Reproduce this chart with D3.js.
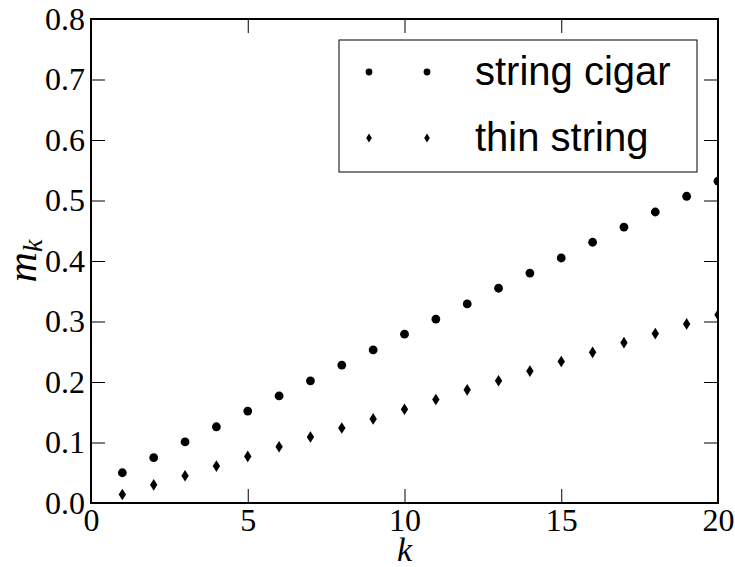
<!DOCTYPE html>
<html>
<head>
<meta charset="utf-8">
<script src="https://cdn.jsdelivr.net/npm/d3@7"></script>
<style>
  body { margin: 0; background: #fff; }
  svg { display: block; }
</style>
</head>
<body>
<div id="chart"></div>
<script>
// data
const ks = d3.range(1, 21);
const cigar = [0.050, 0.075, 0.101, 0.126, 0.152, 0.177, 0.202, 0.228, 0.253, 0.279,
               0.304, 0.329, 0.355, 0.380, 0.405, 0.431, 0.456, 0.481, 0.507, 0.532];
const thin = [0.014, 0.030, 0.045, 0.061, 0.077, 0.093, 0.109, 0.124, 0.139, 0.155,
              0.171, 0.187, 0.202, 0.218, 0.234, 0.249, 0.265, 0.280, 0.296, 0.311];
const xTicks = [0, 5, 10, 15, 20];
const yTicks = [0, 0.1, 0.2, 0.3, 0.4, 0.5, 0.6, 0.7, 0.8];
const legendLabels = ["string cigar", "thin string"];

const W = 735, H = 567;
const margin = {top: 19, right: 17, bottom: 64, left: 91};
const w = W - margin.left - margin.right;
const h = H - margin.top - margin.bottom;

const svg = d3.select("#chart").append("svg")
    .attr("width", W)
    .attr("height", H);

const x = d3.scaleLinear().domain([0, 20]).range([0, w]);
const y = d3.scaleLinear().domain([0, 0.8]).range([h, 0]);

svg.append("defs").append("clipPath")
    .attr("id", "plotClip")
  .append("rect")
    .attr("width", w)
    .attr("height", h);

const g = svg.append("g")
    .attr("transform", "translate(" + margin.left + "," + margin.top + ")");

const serif = "'Liberation Serif', 'Times New Roman', serif";
const sans = "'Liberation Sans', Arial, sans-serif";

// thin diamond like matplotlib's 'd'
function thinDiamond(hw, hh) {
    return "M0," + (-hh) + "L" + hw + ",0L0," + hh + "L" + (-hw) + ",0Z";
}

// ticks, inward on all four sides
const tickLen = 14;
const axisStyle = a => {
    a.select(".domain").remove();
    a.attr("font-family", null).attr("font-size", null);
    a.selectAll("text")
        .style("font-family", serif)
        .style("font-size", "32px")
        .attr("fill", "#000");
};

g.append("g")
    .attr("transform", "translate(0," + h + ")")
    .call(d3.axisBottom(x).tickValues(xTicks).tickSizeInner(-tickLen).tickSizeOuter(0)
        .tickFormat(d3.format("d")).tickPadding(5))
    .call(axisStyle);

g.append("g")
    .call(d3.axisTop(x).tickValues(xTicks).tickSizeInner(-tickLen).tickSizeOuter(0).tickFormat(""))
    .call(axisStyle);

g.append("g")
    .call(d3.axisLeft(y).tickValues(yTicks).tickSizeInner(-tickLen).tickSizeOuter(0)
        .tickFormat(d3.format(".1f")).tickPadding(6))
    .call(axisStyle);

g.append("g")
    .attr("transform", "translate(" + w + ",0)")
    .call(d3.axisRight(y).tickValues(yTicks).tickSizeInner(-tickLen).tickSizeOuter(0).tickFormat(""))
    .call(axisStyle);

g.selectAll(".tick line").attr("stroke", "#000").attr("stroke-width", 1);

// hide ticks sitting on the frame corners
g.selectAll(".tick").filter(d => d === 0 || d === 20 || d === 0.8)
    .select("line").attr("stroke-opacity", 0);

// markers
const marks = g.append("g").attr("clip-path", "url(#plotClip)");

marks.selectAll("circle.cigar")
    .data(ks)
    .join("circle")
    .attr("class", "cigar")
    .attr("cx", (d) => x(d))
    .attr("cy", (d, i) => y(cigar[i]))
    .attr("r", 4.4)
    .attr("fill", "#000");

marks.selectAll("path.thin")
    .data(ks)
    .join("path")
    .attr("class", "thin")
    .attr("transform", (d, i) => "translate(" + x(d) + "," + y(thin[i]) + ")")
    .attr("d", thinDiamond(3.7, 5.8))
    .attr("fill", "#000");

// frame
g.append("rect")
    .attr("width", w)
    .attr("height", h)
    .attr("fill", "none")
    .attr("stroke", "#000")
    .attr("stroke-width", 2);

// axis labels
svg.append("text")
    .attr("x", margin.left + w / 2)
    .attr("y", 561)
    .attr("text-anchor", "middle")
    .style("font-family", serif)
    .style("font-style", "italic")
    .style("font-size", "34px")
    .text("k");

const yl = svg.append("text")
    .attr("transform", "translate(36," + (margin.top + h / 2) + ") rotate(-90)")
    .attr("text-anchor", "middle")
    .style("font-family", serif)
    .style("font-style", "italic")
    .style("font-size", "42px");
yl.append("tspan").text("m");
yl.append("tspan").style("font-size", "28px").attr("dy", 6).text("k");

// legend
const legend = svg.append("g").attr("transform", "translate(339,40)");
legend.append("rect")
    .attr("width", 358)
    .attr("height", 132)
    .attr("fill", "#fff")
    .attr("stroke", "#000")
    .attr("stroke-width", 1);

const rowY = [32, 98];
const markX = [30, 88];

legendLabels.forEach((lab, i) => {
    const row = legend.append("g").attr("transform", "translate(0," + rowY[i] + ")");
    markX.forEach(mx => {
        if (i === 0) {
            row.append("circle").attr("cx", mx).attr("cy", 0).attr("r", 3.4).attr("fill", "#000");
        } else {
            row.append("path")
                .attr("transform", "translate(" + mx + ",0)")
                .attr("d", thinDiamond(2.8, 4.6))
                .attr("fill", "#000");
        }
    });
    row.append("text")
        .attr("x", 136)
        .attr("y", 13)
        .style("font-family", sans)
        .style("font-size", "40px")
        .text(lab);
});
</script>
</body>
</html>
